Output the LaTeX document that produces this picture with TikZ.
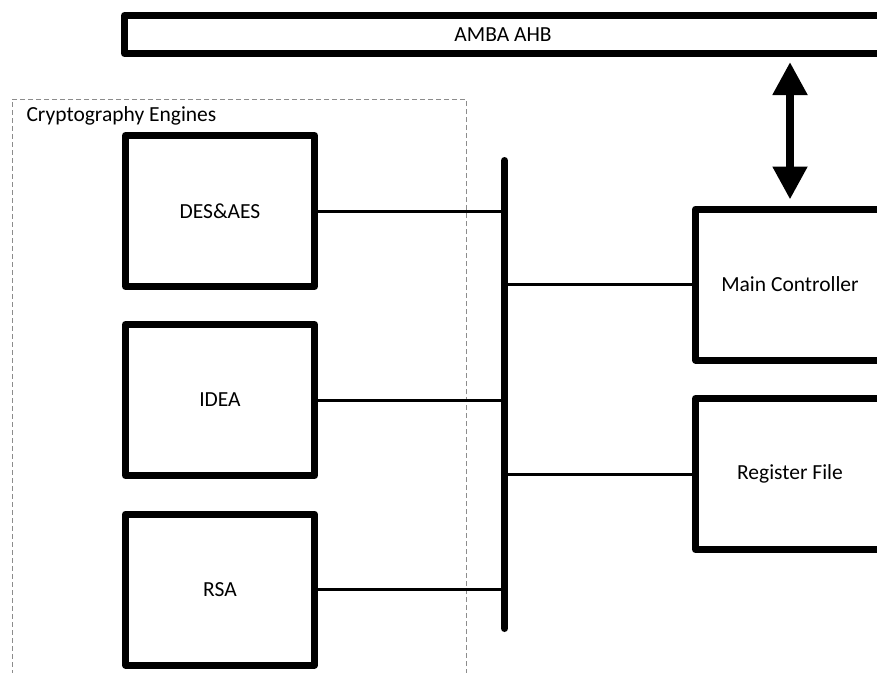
\documentclass[tikz,border=0pt]{standalone}
\usepackage{fontspec}
\setmainfont{Carlito}
\usetikzlibrary{arrows.meta}
\begin{document}
\begin{tikzpicture}[x=1pt,y=-1pt,
  txt/.style={font=\fontsize{21.5}{25}\selectfont},
  block/.style={txt, draw, line width=7pt, line join=round, inner sep=0pt,
                minimum width=189pt, minimum height=151pt},
  busbar/.style={txt, draw, line width=7pt, line join=round, inner sep=0pt,
                 minimum width=757pt, minimum height=38pt},
  group/.style={draw=black!45, line width=1pt, dash pattern=on 5pt off 3pt,
                inner sep=0pt, minimum width=454pt, minimum height=601pt},
  link/.style={line width=3pt},
  spine/.style={line width=7pt, line cap=round},
  bothway/.style={line width=8pt,
                  {Triangle[width=33pt,length=33pt]}-{Triangle[width=33pt,length=33pt]}}]
\useasboundingbox (0,0) rectangle (877,672);
\clip (0,0) rectangle (877,672);
\fill[white] (0,0) rectangle (877,672);

% system bus on top
\node[busbar] (ahb) at (503,34.5) {AMBA AHB};

% group frame for the cipher cores
\node[group] (engines) at (239,399.5) {};
\node[txt, anchor=base west] (enginesLbl) at (23,121) {Cryptography Engines};

% cipher cores
\node[block] (des)  at (220,211)   {DES\&AES};
\node[block] (idea) at (220,400)   {IDEA};
\node[block] (rsa)  at (220,589.5) {RSA};

% control side
\node[block] (mc)  at (790,284.5) {Main Controller};
\node[block] (reg) at (790,474)   {Register File};

% internal bus spine
\coordinate (busT) at (504.5,160.5);
\coordinate (busB) at (504.5,628.5);
\draw[spine] (busT) -- (busB);

% taps onto the spine
\draw[link] (des.east)  -- (des.east -| busT);
\draw[link] (idea.east) -- (idea.east -| busT);
\draw[link] (rsa.east)  -- (rsa.east -| busT);
\draw[link] (mc.west -| busT)  -- (mc.west);
\draw[link] (reg.west -| busT) -- (reg.west);

% AHB <-> controller
\draw[bothway] ([yshift=-5pt]mc.north |- ahb.south) -- ([yshift=6pt]mc.north);
\end{tikzpicture}
\end{document}
